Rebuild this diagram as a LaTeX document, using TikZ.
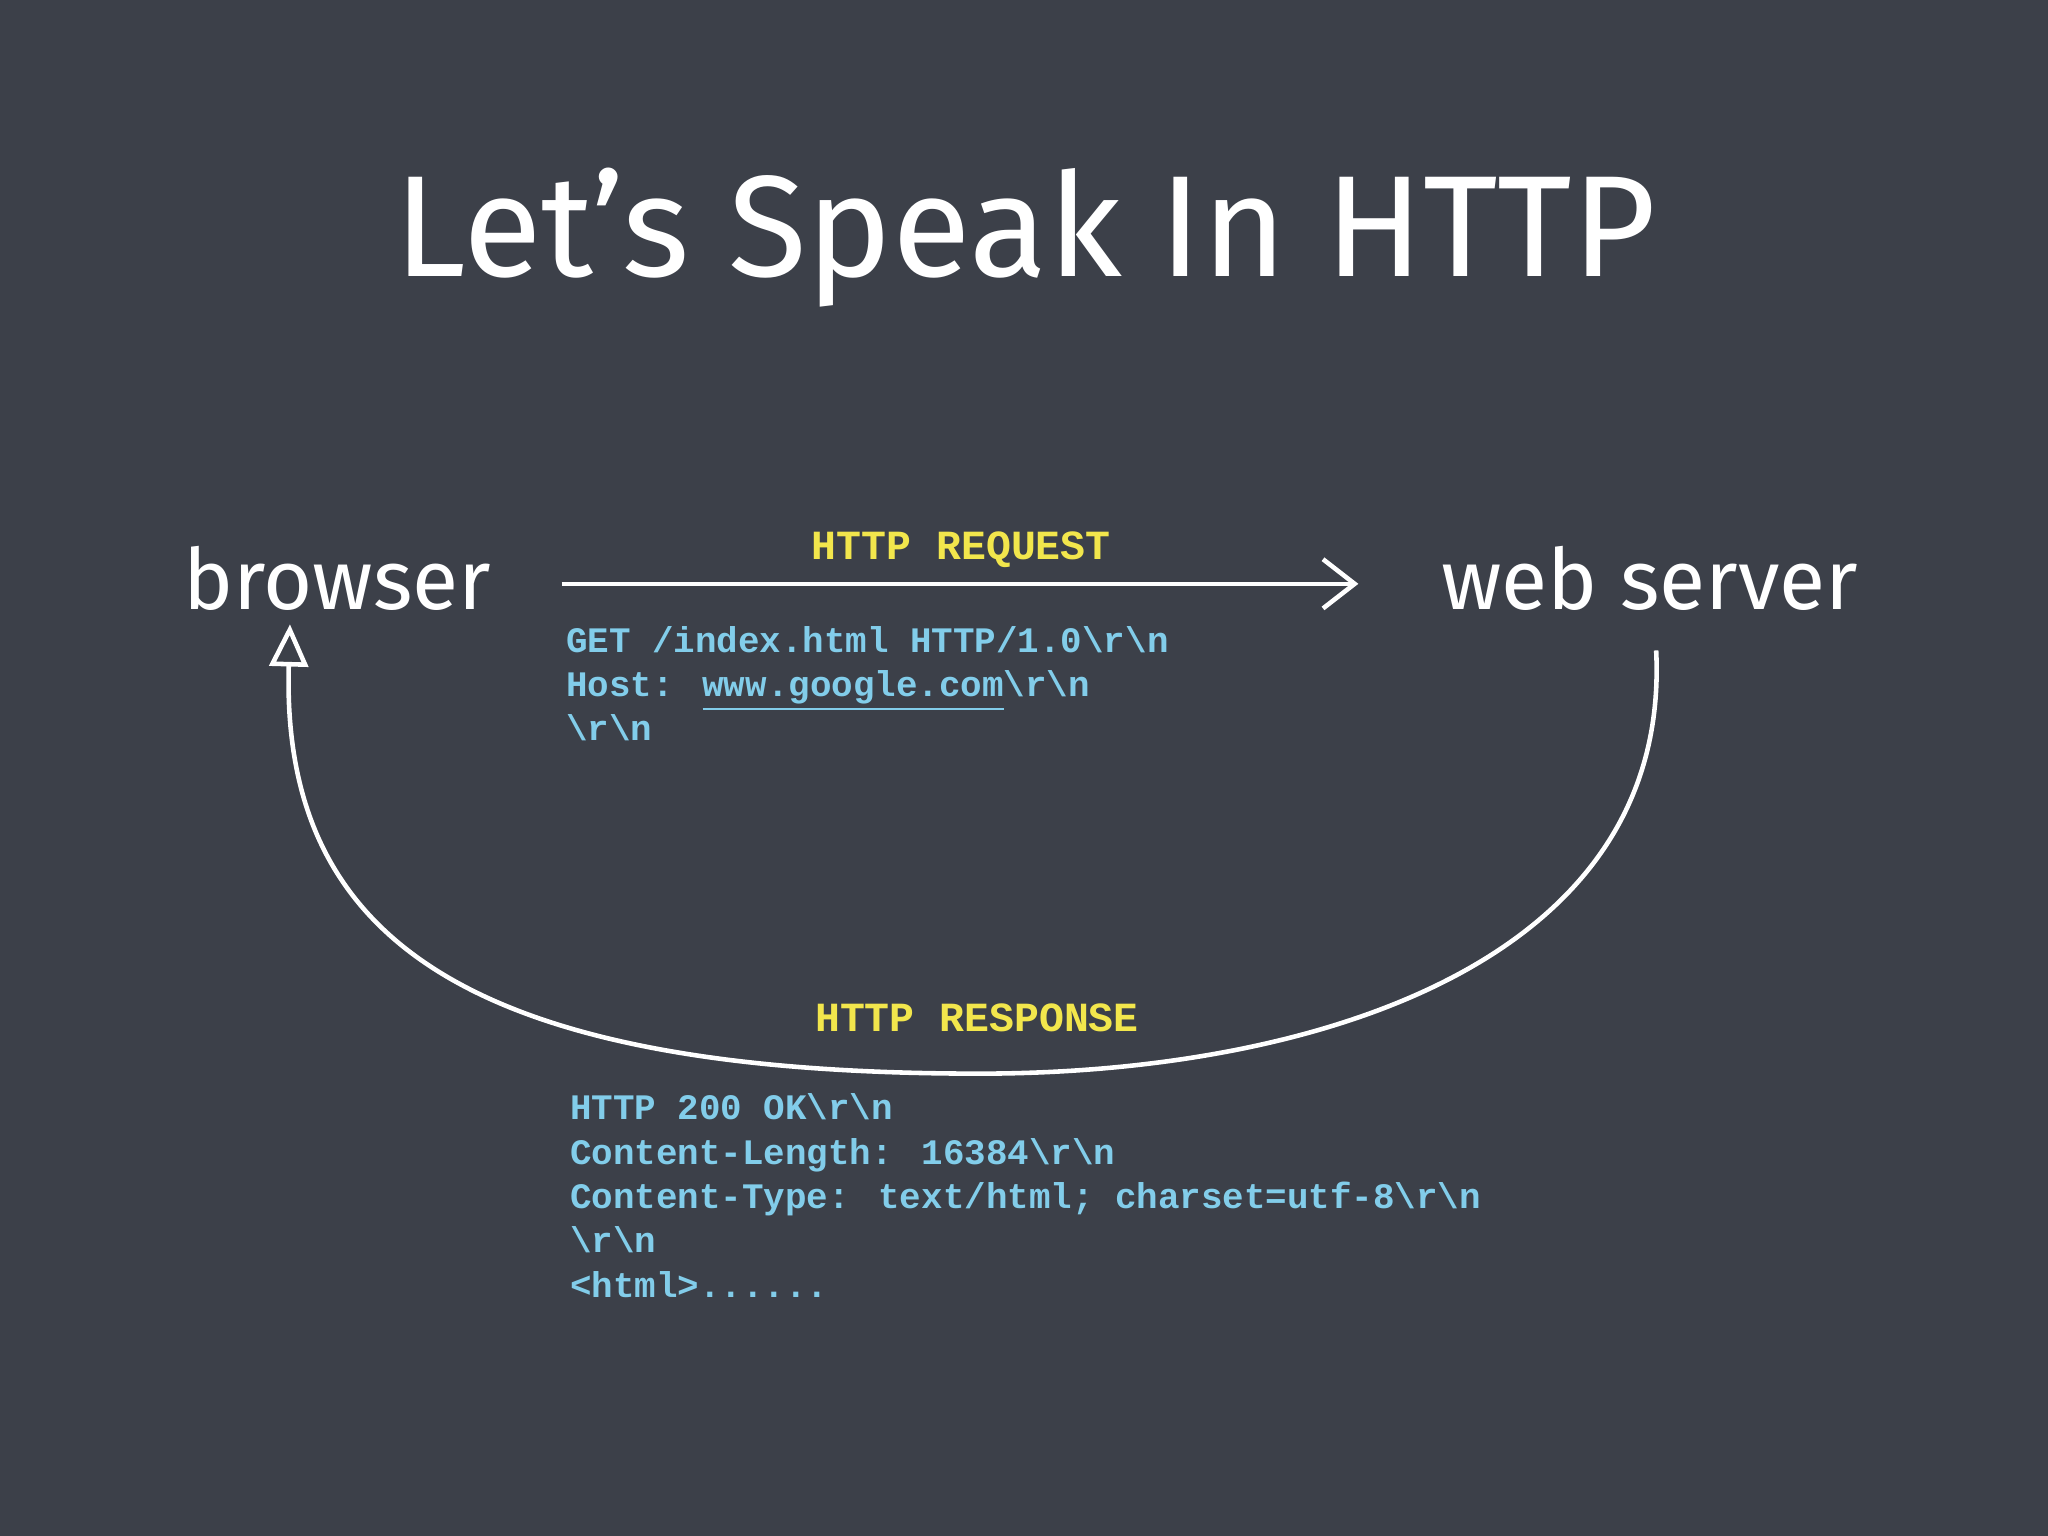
\documentclass[tikz,border=0pt]{standalone}
\usepackage{fontspec}
\setmainfont{Fira Sans}
\newfontfamily\monob[BoldFont={Liberation Mono Bold}]{Liberation Mono}
\usetikzlibrary{arrows.meta}
\definecolor{bg}{HTML}{3C4049}
\definecolor{yel}{HTML}{F2E64C}
\definecolor{cya}{HTML}{82CDEA}
\tikzset{
  big/.style={text=white,font=\fontsize{24}{28}\selectfont},
  lbl/.style={text=yel,font=\monob\bfseries\fontsize{11.8}{14}\selectfont},
  code/.style={text=cya,font=\monob\bfseries\fontsize{10.2}{12.6}\selectfont,align=left,anchor=north west,inner sep=0pt},
  chalk/.style={white,line width=1.3pt}
}
\begin{document}
\begin{tikzpicture}[x=0.013061cm,y=-0.013061cm]
\fill[bg] (0,0) rectangle (1568,1176);
\node[text=white,font=\fontsize{41}{48}\selectfont] (title) at (785,182) {Let’s Speak In HTTP};
\node[big] (browser) at (258,443) {browser};
\node[big] (server) at (1263,443) {web server};
\coordinate (rqs) at (430,447);
\coordinate (rqe) at (1040,447);
\draw[chalk,-{Straight Barb[length=9pt,width=14pt]}] (rqs) -- (rqe);
\node[lbl] (req) at (736,421) {HTTP REQUEST};
\node[code] (reqtext) at (433,479) {GET /index.html HTTP/1.0\textbackslash r\textbackslash n\\
Host: \underline{www.google.com}\textbackslash r\textbackslash n\\
\textbackslash r\textbackslash n};
\coordinate (rss) at (1268,498);
\coordinate (rse) at (222,478);
\draw[chalk,-{Triangle[open,length=12pt,width=11pt]}] (rss) .. controls (1280,740) and (1000,822) .. (750,822)
  .. controls (360,822) and (215,720) .. (rse);
\node[lbl] (resp) at (748,779) {HTTP RESPONSE};
\node[code] (resptext) at (436,837) {HTTP 200 OK\textbackslash r\textbackslash n\\
Content-Length: 16384\textbackslash r\textbackslash n\\
Content-Type: text/html; charset=utf-8\textbackslash r\textbackslash n\\
\textbackslash r\textbackslash n\\
<html>......};
\end{tikzpicture}
\end{document}
